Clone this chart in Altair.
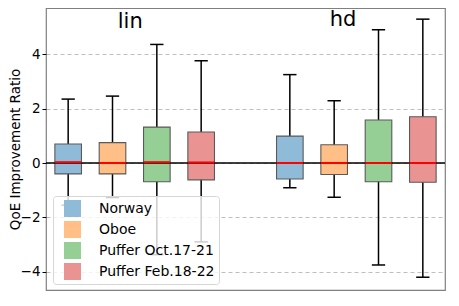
import altair as alt
import pandas as pd

datasets = ["Norway", "Oboe", "Puffer Oct.17-21", "Puffer Feb.18-22"]
colors = ["#8fbbd9", "#ffbf86", "#95cf95", "#ea9393"]

series = ["Norway", "Oboe", "Puffer Oct.17-21", "Puffer Feb.18-22"] * 2
positions = [1, 2, 3, 4, 6, 7, 8, 9]
lower = [-1.55, -1.27, -3.37, -2.90, -0.91, -1.26, -3.75, -4.20]
q1 = [-0.40, -0.40, -0.69, -0.62, -0.59, -0.42, -0.69, -0.71]
median = [0.03, 0.0, 0.03, 0.02, 0.0, 0.0, 0.0, 0.0]
q3 = [0.70, 0.75, 1.32, 1.14, 0.99, 0.67, 1.58, 1.70]
upper = [2.35, 2.46, 4.36, 3.76, 3.25, 2.29, 4.90, 5.29]

group_labels = ["lin", "hd"]
group_x = [2.4, 7.2]
group_y = [4.95, 5.02]

y_ticks = [-4, -2, 0, 2, 4]

df = pd.DataFrame({
    "dataset": series, "pos": positions, "lower": lower, "q1": q1,
    "median": median, "q3": q3, "upper": upper,
})
labels_df = pd.DataFrame({"label": group_labels, "x": group_x, "y": group_y})

FONT = "DejaVu Sans"
xs = alt.Scale(domain=[0.5, 9.5], nice=False, zero=False)
ys = alt.Scale(domain=[-4.67, 5.70], nice=False, zero=False)

base = alt.Chart(df).transform_calculate(
    xl="datum.pos - 0.3", xr="datum.pos + 0.3",
    cl="datum.pos - 0.15", cr="datum.pos + 0.15",
)

whisk = base.mark_rule(color="black", strokeWidth=1.5).encode(
    x=alt.X("pos:Q", scale=xs, axis=None),
    y=alt.Y("lower:Q", scale=ys, axis=alt.Axis(
        values=y_ticks, format="d", title="QoE Improvement Ratio",
        grid=True, gridDash=[4, 3], gridColor="#b8b8b8", gridWidth=0.9,
        domain=False, ticks=True, tickColor="black", tickSize=4, tickWidth=1,
        labelFontSize=13.5, labelColor="black", labelFont=FONT, labelPadding=2,
        titleFont=FONT, titleFontSize=13.5, titleFontWeight="normal",
        titleColor="black", titleX=-27, titleY=141, titleAngle=270,
        titleAlign="center", titleBaseline="alphabetic")),
    y2="upper:Q",
)

cap_lo = base.mark_rule(color="black", strokeWidth=1.5).encode(
    x=alt.X("cl:Q", scale=xs), x2="cr:Q", y=alt.Y("lower:Q", scale=ys))
cap_hi = base.mark_rule(color="black", strokeWidth=1.5).encode(
    x=alt.X("cl:Q", scale=xs), x2="cr:Q", y=alt.Y("upper:Q", scale=ys))

boxes = base.mark_rect(stroke="#5a5a5a", strokeWidth=1.1, opacity=1).encode(
    x=alt.X("xl:Q", scale=xs), x2="xr:Q",
    y=alt.Y("q1:Q", scale=ys), y2="q3:Q",
    fill=alt.Fill("dataset:N", scale=alt.Scale(domain=datasets, range=colors),
                  legend=alt.Legend(
                      title=None, orient="none", legendX=7, legendY=188,
                      symbolType="square", symbolSize=289, symbolStrokeWidth=0,
                      symbolOpacity=1, labelFontSize=14, labelFont=FONT,
                      labelColor="black", labelOffset=18, rowPadding=4,
                      padding=4, symbolOffset=7,
                      fillColor="rgba(255,255,255,0.8)", strokeColor="#d6d6d6",
                      cornerRadius=3)),
)

zero = alt.Chart(pd.DataFrame({"z": [0]})).mark_rule(color="black", strokeWidth=1.5).encode(
    y=alt.Y("z:Q", scale=ys))

med = base.mark_rule(color="#ff0000", strokeWidth=2).encode(
    x=alt.X("xl:Q", scale=xs), x2="xr:Q", y=alt.Y("median:Q", scale=ys))

texts = alt.Chart(labels_df).mark_text(fontSize=21, font=FONT, color="black",
                                       baseline="alphabetic", align="center").encode(
    x=alt.X("x:Q", scale=xs), y=alt.Y("y:Q", scale=ys), text="label:N")

chart = alt.layer(whisk, cap_lo, cap_hi, boxes, zero, med, texts).properties(
    width=399, height=282,
    autosize=alt.AutoSizeParams(type="none"),
    padding={"left": 38, "top": 0, "right": 5, "bottom": 5},
).configure_view(stroke="#808080", strokeWidth=1.2)

chart.save("out.html", embed_options={"renderer": "svg", "actions": False})
